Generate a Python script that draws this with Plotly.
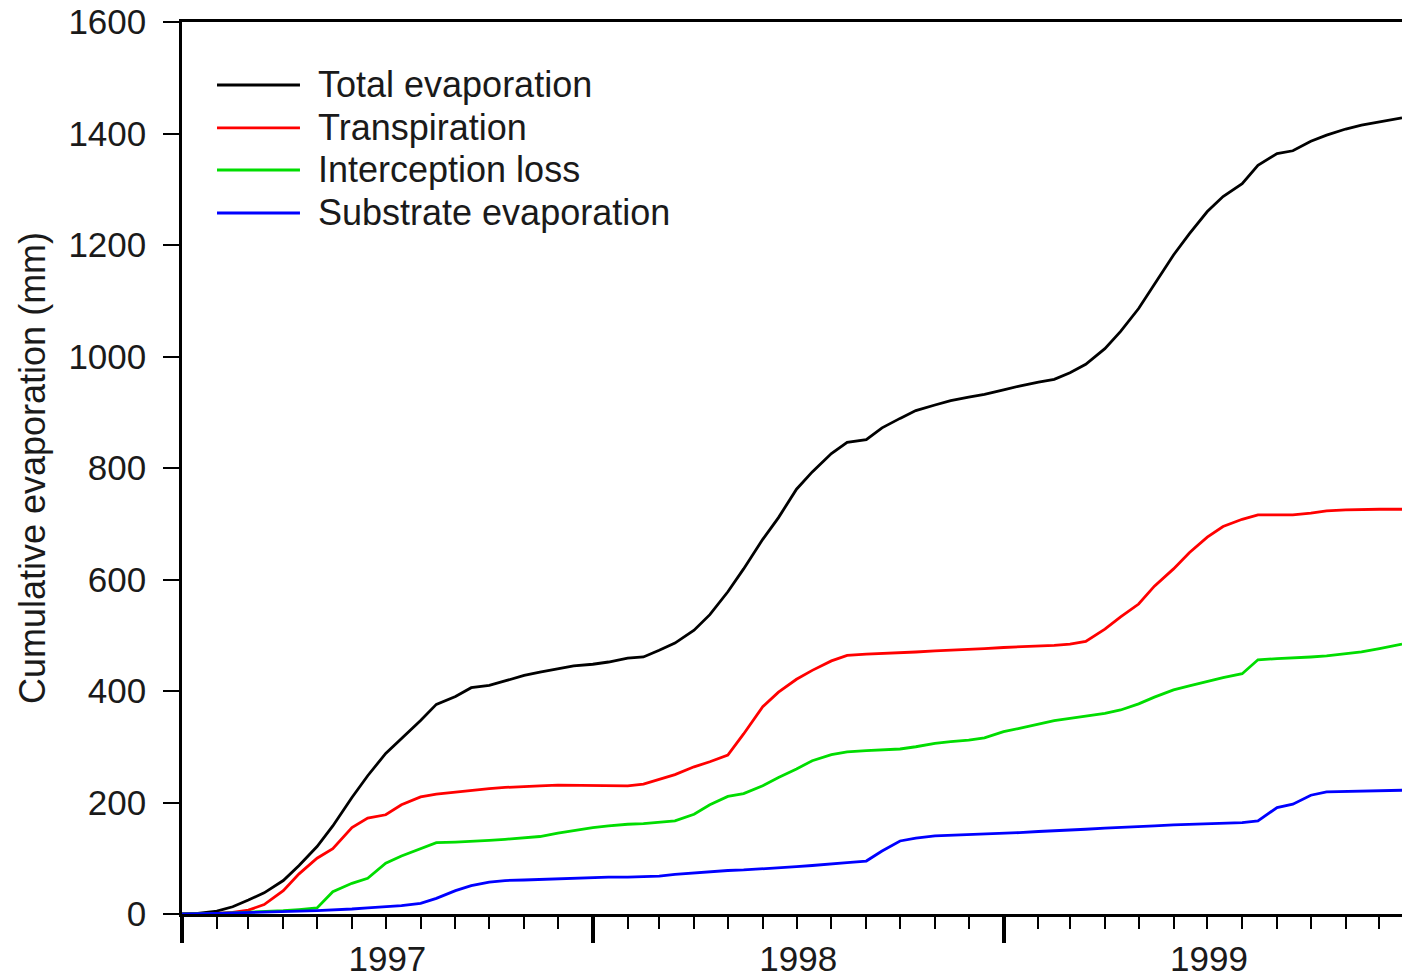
import plotly.graph_objects as go

# Half-monthly sample dates (1st and 15th of each month) plus the last visible date
dates = [f"{y}-{m:02d}-{d:02d}" for y in (1997, 1998, 1999) for m in range(1, 13) for d in (1, 15)] + ["1999-12-21"]

total_evaporation = [
    0, 1, 5, 13, 25, 38, 60, 87, 121, 158, 209, 248, 288, 314, 347, 376, 390, 406, 410, 418, 428, 434, 440, 445,
    448, 452, 459, 461, 473, 486, 509, 537, 578, 619, 672, 711, 762, 793, 826, 846, 851, 872, 889, 903, 913, 921, 927, 932,
    940, 947, 954, 959, 971, 986, 1014, 1045, 1086, 1129, 1182, 1220, 1260, 1287, 1310, 1343, 1364, 1369, 1386, 1397, 1408, 1415, 1421, 1426,
    1428,
]
transpiration = [
    0, 0, 1, 3, 7, 17, 42, 72, 100, 117, 155, 172, 178, 196, 210, 215, 219, 222, 225, 227, 229, 230, 231, 231,
    231, 230, 230, 233, 241, 250, 264, 273, 285, 323, 372, 398, 421, 437, 454, 464, 466, 467, 468, 470, 472, 473, 474, 476,
    478, 479, 481, 482, 484, 489, 511, 533, 556, 588, 619, 648, 676, 695, 708, 716, 716, 716, 719, 723, 725, 726, 726, 726,
    726,
]
interception_loss = [
    0, 0, 1, 2, 3, 4, 6, 8, 11, 40, 55, 64, 91, 104, 117, 128, 129, 130, 132, 134, 136, 139, 145, 150,
    155, 158, 161, 162, 164, 167, 179, 196, 211, 216, 230, 245, 260, 275, 286, 291, 293, 294, 296, 300, 306, 309, 312, 316,
    327, 333, 341, 347, 351, 355, 360, 366, 377, 389, 402, 409, 417, 424, 431, 456, 458, 459, 461, 463, 467, 470, 476, 482,
    484,
]
substrate_evaporation = [
    0, 0, 1, 2, 3, 4, 5, 5, 6, 7, 9, 11, 13, 15, 19, 28, 42, 51, 57, 60, 61, 62, 63, 64,
    65, 66, 66, 67, 68, 71, 74, 76, 78, 79, 81, 82, 85, 87, 89, 92, 95, 113, 131, 136, 140, 141, 142, 144,
    145, 146, 148, 149, 150, 152, 154, 155, 157, 158, 160, 161, 162, 163, 164, 167, 191, 197, 213, 219, 220, 221, 221, 222,
    222,
]

series_names = ["Total evaporation", "Transpiration", "Interception loss", "Substrate evaporation"]
series_values = [total_evaporation, transpiration, interception_loss, substrate_evaporation]
series_colors = ["#000000", "#ff0000", "#00dd00", "#0000ff"]

FONT = "Arial, Liberation Sans, sans-serif"
TXT = "#1a1a1a"
FS_TICK = 35
FS_TEXT = 36

fig = go.Figure()
for name, vals, col in zip(series_names, series_values, series_colors):
    fig.add_trace(go.Scatter(x=dates, y=vals, mode="lines", name=name,
                             line=dict(color=col, width=2.8), showlegend=False))

# Custom legend (long line samples like the original)
legend_y = [0.9294, 0.8812, 0.8341, 0.7859]
for name, col, ly in zip(series_names, series_colors, legend_y):
    fig.add_shape(type="line", xref="paper", yref="paper", x0=0.0287, x1=0.0967, y0=ly, y1=ly,
                  line=dict(color=col, width=2.8))
    fig.add_annotation(xref="paper", yref="paper", x=0.1107, y=ly, text=name, showarrow=False,
                       xanchor="left", yanchor="middle", borderpad=0,
                       font=dict(family=FONT, size=FS_TEXT, color=TXT))

fig.update_layout(
    width=1402, height=978,
    margin=dict(l=182, r=0, t=22, b=64),
    paper_bgcolor="white", plot_bgcolor="white",
    font=dict(family=FONT, size=FS_TICK, color=TXT),
)

fig.update_xaxes(
    type="date", range=["1997-01-01", "1999-12-21"],
    tick0="1997-01-01", dtick="M12", tickformat="%Y", ticklabelmode="period",
    ticks="outside", ticklen=26, tickwidth=3.5, tickcolor="black",
    minor=dict(dtick="M1", ticks="outside", ticklen=12, tickwidth=2.2, tickcolor="black", showgrid=False),
    showline=True, linecolor="black", linewidth=2.5, mirror=True,
    showgrid=False, zeroline=False, ticklabelstandoff=-14, automargin=False,
    tickfont=dict(family=FONT, size=FS_TICK, color=TXT),
)
fig.update_yaxes(
    range=[0, 1600], dtick=200, tick0=0,
    ticks="outside", ticklen=16, tickwidth=2.2, tickcolor="black",
    showline=True, linecolor="black", linewidth=2.5,
    showgrid=False, zeroline=False, ticklabelstandoff=10, automargin=False,
    tickfont=dict(family=FONT, size=FS_TICK, color=TXT),
    title=dict(text="Cumulative evaporation (mm)", standoff=12,
               font=dict(family=FONT, size=FS_TEXT, color=TXT)),
)

fig.write_html("out.html", config={"displayModeBar": False},
               post_script="document.body.style.margin='0';document.body.style.overflow='hidden';")
